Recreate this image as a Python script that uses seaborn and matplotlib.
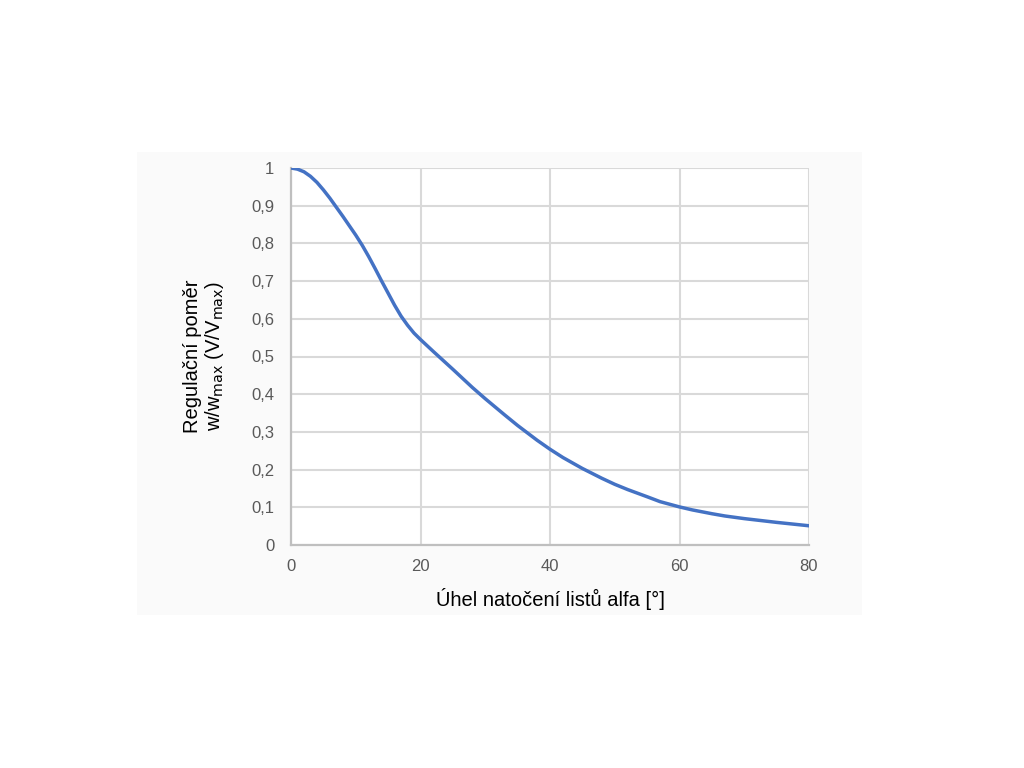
import matplotlib
matplotlib.use("Agg")
import matplotlib.pyplot as plt
from matplotlib.patches import Rectangle
import pandas as pd
import seaborn as sns

# values
ALPHA = [0, 1, 2, 3, 4, 5, 6, 7, 8, 9, 10, 11, 12, 13, 14, 15, 16, 17, 18, 19, 20,
         22, 25, 28, 30, 33, 35, 38, 40, 42, 45, 48, 50, 52, 55, 57, 60, 62, 65,
         67, 70, 75, 80]
RATIO = [1.0, 0.997, 0.99, 0.978, 0.962, 0.942, 0.92, 0.896, 0.872, 0.847, 0.822,
         0.795, 0.765, 0.733, 0.70, 0.668, 0.636, 0.607, 0.583, 0.562, 0.545,
         0.513, 0.466, 0.418, 0.388, 0.345, 0.317, 0.278, 0.254, 0.232, 0.203,
         0.177, 0.161, 0.147, 0.128, 0.115, 0.101, 0.093, 0.083, 0.077, 0.07,
         0.06, 0.051]
X_TICKS = [0, 20, 40, 60, 80]
Y_TICKS = [0, 0.1, 0.2, 0.3, 0.4, 0.5, 0.6, 0.7, 0.8, 0.9, 1.0]
Y_LABELS = ["0", "0,1", "0,2", "0,3", "0,4", "0,5", "0,6", "0,7", "0,8", "0,9", "1"]

LINE = "#4472C4"
GRID = "#D9D9D9"
SPINE = "#BFBFBF"
TICK = "#595959"

sns.set_theme(style="white")
plt.rcParams["font.family"] = ["Liberation Sans", "DejaVu Sans"]

df = pd.DataFrame({"alpha": ALPHA, "ratio": RATIO})

fig = plt.figure(figsize=(10.24, 7.68), dpi=100)
fig.patch.set_facecolor("white")
fig.patches.append(Rectangle((137 / 1024, 1 - 615 / 768), (862 - 137) / 1024, (615 - 152) / 768,
                             transform=fig.transFigure, facecolor="#FAFAFA", edgecolor="none", zorder=-5))

ax = fig.add_axes([291 / 1024, 1 - 545 / 768, (809 - 291) / 1024, (545 - 168) / 768])
ax.set_zorder(2)
ax.set_facecolor("white")

sns.lineplot(data=df, x="alpha", y="ratio", ax=ax, color=LINE, linewidth=2.5, zorder=5)

ax.set_xlim(0, 80)
ax.set_ylim(0, 1)
ax.set_xticks(X_TICKS)
ax.set_yticks(Y_TICKS)
ax.set_yticklabels(Y_LABELS)
ax.grid(True, color=GRID, linewidth=1.5)
ax.set_axisbelow(True)
ax.tick_params(axis="both", length=0, labelsize=12, colors=TICK)
ax.tick_params(axis="x", pad=10)
ax.tick_params(axis="y", pad=12)

for side in ["top", "right"]:
    ax.spines[side].set_visible(False)
for side in ["left", "bottom"]:
    ax.spines[side].set_color(SPINE)
    ax.spines[side].set_linewidth(1.6)

ax.set_xlabel("Úhel natočení listů alfa [°]", fontsize=14.5, color="black", labelpad=10)
ax.set_ylabel("Regulační poměr\nw/w$_{\\mathrm{max}}$ (V/V$_{\\mathrm{max}}$)", fontsize=14.5,
              color="black", labelpad=18, linespacing=1.1)

fig.savefig("out.png", dpi=100, facecolor=fig.get_facecolor())
